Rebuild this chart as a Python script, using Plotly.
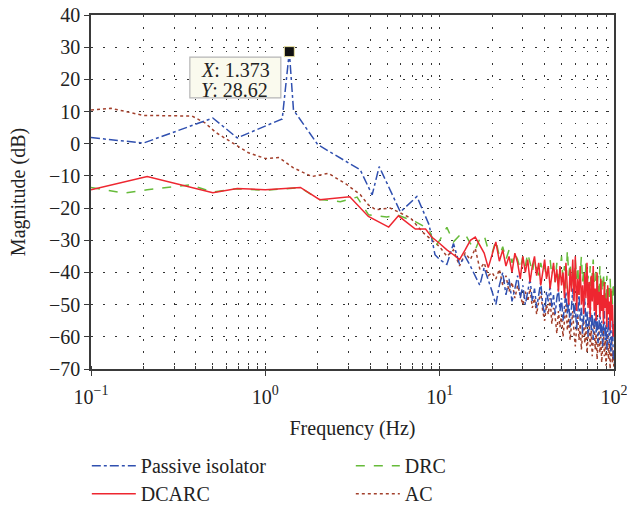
import plotly.graph_objects as go

# ---------------- data ----------------
hf_freq = [10, 11, 12, 13, 14, 15, 16, 17, 18, 19, 20, 21, 22, 23, 24, 25, 26, 27, 28, 29,
           30, 31, 32, 33, 34, 35, 36, 37, 38, 39, 40, 41, 42, 43, 44, 45, 46, 47, 48, 49,
           50, 51, 52, 53, 54, 55, 56, 57, 58, 59, 60, 61, 62, 63, 64, 65, 66, 67, 68, 69,
           70, 71, 72, 73, 74, 75, 76, 77, 78, 79, 80, 81, 82, 83, 84, 85, 86, 87, 88, 89,
           90, 91, 92, 93, 94, 95, 96, 97, 98, 99, 100]

passive_lf_freq = [0.1, 0.2, 0.5, 0.69, 1.25, 1.373, 1.45, 2.0, 3.5, 4.1, 4.5, 5.95, 7.4, 8.7, 9.4]
passive_lf_mag = [1.9, 0.2, 8.0, 1.8, 7.7, 28.62, 10.5, -0.3, -8.1, -15.9, -7.1, -21.2, -16.4, -25.2, -34.5]
passive_hf_mag = [-36, -37.5, -31, -37.5, -35, -38, -41, -44, -38.5, -42, -46, -50, -44, -40, -47, -42, -49, -45, -41, -48,
                  -44, -50, -46, -42, -49, -45, -51, -47, -43, -50, -53, -46, -49, -44, -51, -47, -53, -48, -45, -52,
                  -48, -55, -50, -46, -53, -49, -57, -51, -45, -54, -50, -58, -52, -47, -55, -51, -59, -53, -48, -57,
                  -52, -60, -55, -49, -58, -53, -61, -56, -50, -59, -54, -62, -57, -51, -60, -55, -63, -58, -52, -61,
                  -56, -64, -59, -54, -62, -57, -65, -60, -55, -66, -68]

drc_lf_freq = [0.1, 0.155, 0.21, 0.37, 0.5, 0.69, 1.0, 1.59, 2.02, 2.69, 3.36, 3.91, 4.98, 5.69, 7.25, 8.66, 9.45]
drc_lf_mag = [-13.6, -15.3, -14.3, -12.8, -15.0, -14.0, -14.5, -13.6, -17.3, -18.0, -16.6, -22.1, -22.8, -22.1, -24.2, -26.5, -31.9]
drc_hf_mag = [-30, -26, -30.5, -28.5, -28, -31, -33, -29.5, -28.5, -33, -34, -30, -35, -32, -36, -33, -37, -34, -36, -39,
              -35, -38, -34, -37, -40, -36, -39, -41, -37, -40, -38, -42, -39, -36, -41, -38, -43, -37, -44, -40,
              -35, -42, -38, -45, -33, -41, -37, -44, -39, -46, -36, -42, -38, -47, -40, -35, -43, -39, -46, -37,
              -44, -41, -48, -38, -45, -40, -36, -43, -47, -39, -45, -41, -48, -38, -44, -42, -49, -40, -46, -43,
              -50, -41, -47, -44, -49, -42, -48, -45, -50, -43, -48]

dcarc_lf_freq = [0.1, 0.21, 0.5, 0.69, 1.0, 1.59, 2.05, 3.05, 3.9, 5.1, 5.8, 7.25, 8.3, 9.0]
dcarc_lf_mag = [-14.3, -10.2, -15.2, -13.9, -14.3, -13.6, -17.4, -16.5, -22.6, -25.9, -22.4, -26.5, -26.5, -29.0]
dcarc_hf_mag = [-31, -33, -34.5, -36, -33, -30, -29, -31.5, -34, -38.5, -34, -30.5, -36.5, -33, -38, -35, -40, -34, -37, -42,
                -35, -40, -36, -43, -38, -35, -41, -37, -44, -39, -36, -42, -38, -45, -40, -37, -43, -39, -46, -38,
                -44, -40, -48, -37, -45, -50, -39, -46, -36, -49, -35, -52, -42, -47, -38, -50, -44, -53, -40, -48,
                -37, -51, -43, -54, -41, -49, -38, -52, -45, -55, -40, -50, -46, -54, -42, -52, -47, -56, -43, -51,
                -48, -57, -44, -53, -49, -58, -45, -55, -50, -60, -56]

ac_lf_freq = [0.1, 0.13, 0.2, 0.3, 0.38, 0.45, 0.52, 0.66, 0.8, 1.0, 1.2, 1.45, 1.85, 2.3, 2.9, 3.5, 3.9, 4.3, 5.2, 6.0, 6.8, 8.1, 9.0]
ac_lf_mag = [10.5, 11.0, 8.8, 8.8, 8.6, 6.5, 3.5, 0.0, -2.8, -4.6, -4.3, -7.5, -10.2, -9.2, -12.5, -15.8, -19.0, -20.5, -20.0, -21.6, -23.1, -27.8, -30.0]
ac_hf_mag = [-32, -35, -33, -38, -34, -36, -32.5, -39, -37, -41, -40, -42, -39, -44, -41, -46, -43, -48, -44, -47,
             -50, -46, -49, -45, -51, -48, -53, -49, -46, -52, -55, -50, -53, -48, -56, -51, -54, -59, -52, -57,
             -53, -60, -55, -50, -58, -54, -61, -56, -52, -59, -63, -57, -53, -61, -56, -64, -58, -54, -62, -57,
             -65, -60, -55, -63, -58, -66, -61, -56, -64, -59, -67, -62, -57, -65, -60, -68, -63, -58, -66, -61,
             -69, -64, -59, -67, -62, -70, -65, -60, -68, -64, -71]

tip_x = 1.373
tip_y = 28.62
tip_text_x = "<i>X</i>: 1.373"
tip_text_y = "<i>Y</i>: 28.62"

x_tickvals = [0.1, 1, 10, 100]
x_ticktext = ["10<sup>\u22121</sup>", "10<sup>0</sup>", "10<sup>1</sup>", "10<sup>2</sup>"]
y_tickvals = [40, 30, 20, 10, 0, -10, -20, -30, -40, -50, -60, -70]
y_ticktext = ["40", "30", "20", "10", "0", "\u221210", "\u221220", "\u221230", "\u221240", "\u221250", "\u221260", "\u221270"]

# ---------------- figure ----------------
FONT = "Liberation Serif"
FS = 20
TXT = "#222222"
fig = go.Figure()

series = [
    ("AC", ac_lf_freq, ac_lf_mag, ac_hf_mag, "#a3402c", "dot", 2, "legend2"),
    ("Passive isolator", passive_lf_freq, passive_lf_mag, passive_hf_mag, "#3050b0", "dashdot", 1, "legend"),
    ("DRC", drc_lf_freq, drc_lf_mag, drc_hf_mag, "#66bb3a", "dash", 2, "legend"),
    ("DCARC", dcarc_lf_freq, dcarc_lf_mag, dcarc_hf_mag, "#ee2630", "solid", 1, "legend2"),
]
for name, lf, lm, hm, color, dash, rank, lg in series:
    fig.add_trace(go.Scatter(
        x=lf + hf_freq, y=lm + hm, mode="lines", name=name,
        line=dict(color=color, dash=dash, width=1.5),
        legendrank=rank, legend=lg,
    ))

fig.add_trace(go.Scatter(
    x=[tip_x], y=[tip_y], mode="markers", showlegend=False,
    marker=dict(symbol="square", size=10, color="#111111",
                line=dict(color="#e8e0a0", width=1)),
))

# data-tip box
fig.add_shape(type="rect", xref="paper", yref="paper",
              x0=0.189, x1=0.363, y0=0.766, y1=0.881,
              fillcolor="#fafaee", line=dict(color="#b5b5b5", width=1.2))
fig.add_annotation(x=0.207, y=0.846, xref="paper", yref="paper", showarrow=False,
                   text=tip_text_x, xanchor="left", yanchor="middle",
                   font=dict(family=FONT, size=FS, color=TXT))
fig.add_annotation(x=0.207, y=0.789, xref="paper", yref="paper", showarrow=False,
                   text=tip_text_y, xanchor="left", yanchor="middle",
                   font=dict(family=FONT, size=FS, color=TXT))

axis_common = dict(
    showline=True, linecolor="#3a3a3a", linewidth=1.5, mirror=True,
    ticks="outside", ticklen=5, tickcolor="#3a3a3a", tickwidth=1.2,
    showgrid=True, gridcolor="#333333", gridwidth=1, griddash="1.5px,10.5px",
    zeroline=False, automargin=False, ticklabeloverflow="allow",
    tickfont=dict(family=FONT, size=FS, color=TXT),
)

fig.update_xaxes(
    type="log", range=[-1, 2], tickvals=x_tickvals, ticktext=x_ticktext,
    ticklabelstandoff=4,
    title=dict(text="Frequency (Hz)", font=dict(family=FONT, size=FS, color=TXT), standoff=14),
    minor=dict(ticks="inside", ticklen=3, tickcolor="#3a3a3a", dtick="D1",
               showgrid=True, gridcolor="#333333", gridwidth=1, griddash="1.5px,10.5px"),
    **axis_common,
)
fig.update_yaxes(
    range=[-70, 40], tickvals=y_tickvals, ticktext=y_ticktext,
    title=dict(text="Magnitude (dB)", font=dict(family=FONT, size=FS, color=TXT), standoff=18),
    **axis_common,
)

legend_common = dict(orientation="h", xanchor="left", yanchor="top",
                     entrywidth=205, entrywidthmode="pixels",
                     font=dict(family=FONT, size=FS, color=TXT),
                     traceorder="normal", itemwidth=44, bgcolor="rgba(0,0,0,0)")

fig.update_layout(
    width=627, height=509,
    margin=dict(l=91, r=13, t=15, b=140, autoexpand=False),
    plot_bgcolor="white", paper_bgcolor="white",
    font=dict(family=FONT, size=FS, color=TXT),
    legend=dict(x=-0.008, y=-0.218, **legend_common),
    legend2=dict(x=-0.008, y=-0.297, **legend_common),
)

# remove the page's default 8px body margin so the figure fills the window exactly
fig.write_html("out.html", config={"displayModeBar": False},
               post_script="document.body.style.margin='0';")
